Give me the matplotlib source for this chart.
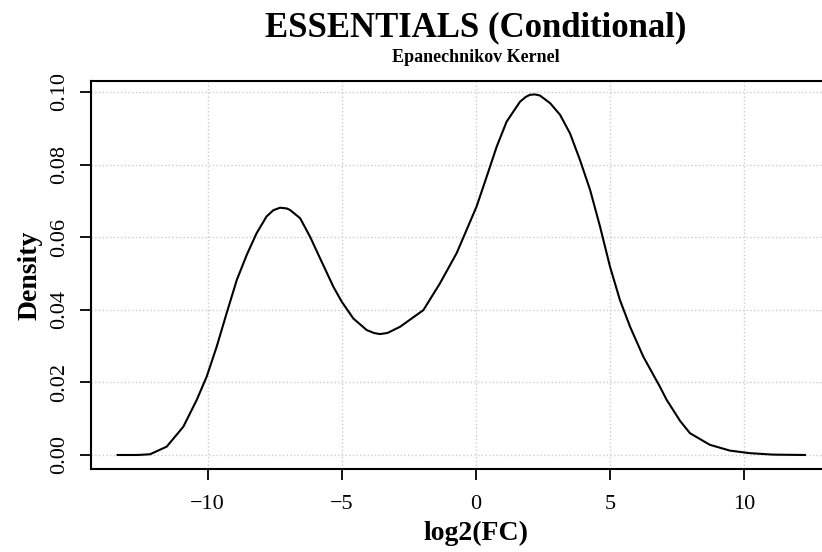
import numpy as np
import matplotlib
matplotlib.use("Agg")
import matplotlib.pyplot as plt

# densidad (log2(FC) -> Density)
x_fc = [-13.35, -12.6, -12.14, -11.52, -10.9, -10.4, -10.03, -9.66, -9.29, -8.91,
        -8.54, -8.17, -7.8, -7.55, -7.3, -7.05, -6.93, -6.55, -6.18, -5.81, -5.31, -5.0,
        -4.57, -4.07, -3.8, -3.58, -3.3, -3.08, -2.83, -1.96, -1.34, -0.72, -0.35, 0.02,
        0.4, 0.77, 1.14, 1.64, 1.85, 2.01, 2.2, 2.38, 2.76, 3.13, 3.5, 3.87,
        4.25, 4.62, 4.99, 5.36, 5.74, 6.23, 6.85, 7.1, 7.6, 7.97,
        8.71, 9.46, 10.2, 11.07, 12.25]
densidad = [0.0, 0.0, 0.0002, 0.0023, 0.0078, 0.0152, 0.0216, 0.0298, 0.039, 0.0482,
            0.0551, 0.0611, 0.0657, 0.0674, 0.0681, 0.0679, 0.0675, 0.0652, 0.0601, 0.0542,
            0.0463, 0.0422, 0.0376, 0.0344, 0.0336, 0.0333, 0.0336, 0.0344, 0.0353, 0.0399,
            0.0473, 0.0556, 0.062, 0.0684, 0.0767, 0.0849, 0.0918, 0.0973, 0.0986, 0.0992,
            0.0993, 0.099, 0.0969, 0.0937, 0.0886, 0.0813, 0.073, 0.0629, 0.0519, 0.0427,
            0.0353, 0.0271, 0.0188, 0.0152, 0.0094, 0.006, 0.0028, 0.0012, 0.0005, 0.0001, 0.0]

xticks = [-10, -5, 0, 5, 10]
yticks = [0.00, 0.02, 0.04, 0.06, 0.08, 0.10]

plt.rcParams['font.family'] = ['Liberation Serif', 'DejaVu Serif']

fig = plt.figure(figsize=(8.22, 5.52), dpi=100)
# el panel sigue mas alla del borde derecho, como en la imagen original
ax = fig.add_axes([91 / 822, 1 - 469 / 552, 770 / 822, 388 / 552])

ax.grid(True, color='#cccccc', linestyle=':', linewidth=1.0)
ax.set_axisbelow(True)
ax.plot(x_fc, densidad, color='black', linewidth=1.5, solid_joinstyle='round')

ax.set_xlim(-14.34, 14.34)
ax.set_ylim(-0.00386, 0.1030)
ax.set_xticks(xticks)
ax.set_yticks(yticks)
ax.set_xticklabels([str(v).replace('-', '\u2212') for v in xticks])
ax.set_yticklabels(['%.2f' % v for v in yticks])

for s in ax.spines.values():
    s.set_linewidth(1.5)
ax.tick_params(axis='both', length=8, width=1.3, labelsize=16, colors='black')
ax.tick_params(axis='x', pad=11)
ax.tick_params(axis='y', labelrotation=90, pad=8)
for lab in ax.get_yticklabels():
    lab.set_va('center')

ax.set_xlabel('log2(FC)', fontsize=20, fontweight='bold', labelpad=5)
ax.set_ylabel('Density', fontsize=20, fontweight='bold', labelpad=5)

fig.text(476 / 822, 1 - 28 / 552, 'ESSENTIALS (Conditional)', ha='center', va='center',
         fontsize=25, fontweight='bold')
fig.text(476 / 822, 1 - 58 / 552, 'Epanechnikov Kernel', ha='center', va='center',
         fontsize=13, fontweight='bold')

fig.savefig('out.png', dpi=100)
